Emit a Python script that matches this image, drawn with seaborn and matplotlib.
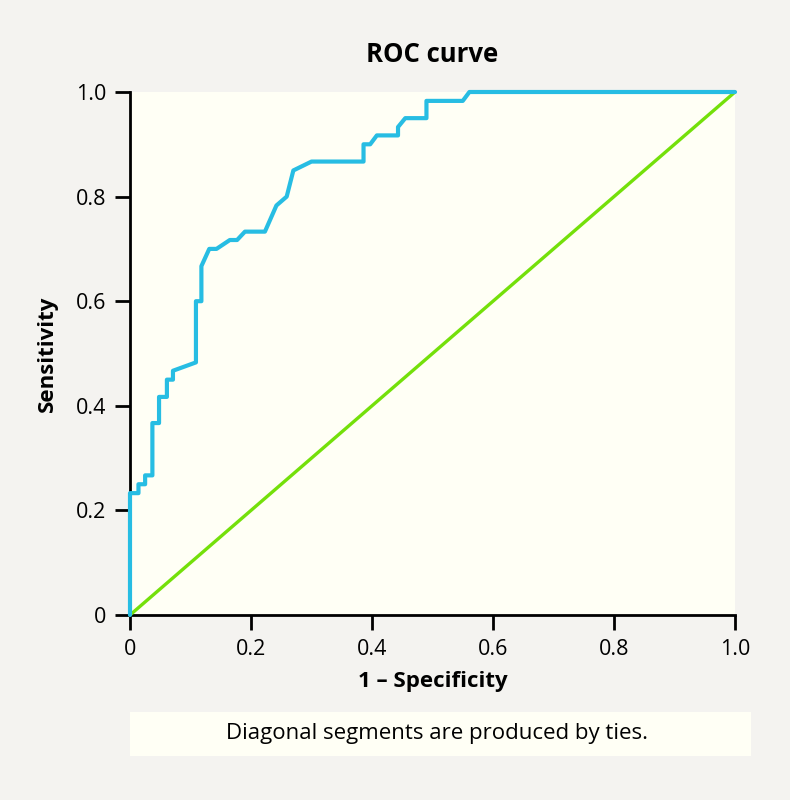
"""
plot.py
~~~~~~~
ROC curve with the chance diagonal and a caption box underneath.
"""
import matplotlib.pyplot as plt
import matplotlib.patches as mpatches
import seaborn as sns
from matplotlib import font_manager

# ROC points (1 - specificity, sensitivity)
fpr = [0.0, 0.0, 0.014, 0.014, 0.025, 0.025, 0.037, 0.037, 0.048, 0.048,
       0.061, 0.061, 0.071, 0.071, 0.109, 0.109, 0.118, 0.118, 0.131, 0.143,
       0.165, 0.177, 0.190, 0.223, 0.242, 0.259, 0.270, 0.300, 0.386, 0.386,
       0.397, 0.408, 0.443, 0.443, 0.455, 0.490, 0.490, 0.550, 0.561, 1.0]
tpr = [0.0, 0.233, 0.233, 0.250, 0.250, 0.267, 0.267, 0.367, 0.367, 0.417,
       0.417, 0.450, 0.450, 0.467, 0.483, 0.600, 0.600, 0.667, 0.700, 0.700,
       0.717, 0.717, 0.733, 0.733, 0.783, 0.800, 0.850, 0.867, 0.867, 0.900,
       0.900, 0.917, 0.917, 0.933, 0.950, 0.950, 0.983, 0.983, 1.000, 1.000]

# reference (chance) line
diag_x = [0.0, 1.0]
diag_y = [0.0, 1.0]

ticks = [0, 0.2, 0.4, 0.6, 0.8, 1.0]
tick_labels = ["0", "0.2", "0.4", "0.6", "0.8", "1.0"]

title = "ROC curve"
xlabel = "1 \u2013 Specificity"
ylabel = "Sensitivity"
caption = "Diagonal segments are produced by ties."

# colours
BG = "#f4f3f0"
PANEL = "#fffff5"
BLUE = "#27bde3"
GREEN = "#74e00a"

sns.set_style("ticks")
names = {f.name for f in font_manager.fontManager.ttflist}
family = "Liberation Sans Narrow" if "Liberation Sans Narrow" in names else "Open Sans"
plt.rcParams["font.family"] = [family, "DejaVu Sans"]
plt.rcParams["text.color"] = "black"
plt.rcParams["axes.labelcolor"] = "black"
plt.rcParams["xtick.color"] = "black"
plt.rcParams["ytick.color"] = "black"

fig = plt.figure(figsize=(7.9, 8.0), dpi=100, facecolor=BG)
ax = fig.add_axes([130 / 790, 1 - 615 / 800, 605 / 790, 523 / 800])
ax.set_facecolor(PANEL)

sns.lineplot(x=diag_x, y=diag_y, ax=ax, color=GREEN, linewidth=2.4,
             sort=False, estimator=None, clip_on=False, zorder=3)
sns.lineplot(x=fpr, y=tpr, ax=ax, color=BLUE, linewidth=3.0,
             sort=False, estimator=None, clip_on=False, zorder=4)

ax.set_xlim(0, 1)
ax.set_ylim(0, 1)
ax.set_xticks(ticks, tick_labels)
ax.set_yticks(ticks, tick_labels)
ax.tick_params(length=11, width=2, labelsize=15.5, pad=6)

for side in ["top", "right"]:
    ax.spines[side].set_visible(False)
for side in ["left", "bottom"]:
    ax.spines[side].set_linewidth(2)
    ax.spines[side].set_color("black")

ax.set_xlabel(xlabel, fontsize=16, fontweight="bold")
ax.set_ylabel(ylabel, fontsize=16, fontweight="bold")
ax.xaxis.set_label_coords(0.5, (615 - 682) / 523)
ax.yaxis.set_label_coords((47 - 130) / 605, 0.5)
ax.xaxis.label.set_va("center")
ax.yaxis.label.set_va("center")

fig.text(432.5 / 790, 1 - 55 / 800, title, fontsize=18.5, fontweight="bold",
         ha="center", va="center")

# caption box
box = mpatches.Rectangle((130 / 790, 1 - 756 / 800), 621 / 790, 44 / 800,
                         transform=fig.transFigure, facecolor=PANEL,
                         edgecolor="none")
fig.patches.append(box)
fig.text(437 / 790, 1 - 734 / 800, caption, fontsize=16, ha="center", va="center")

fig.savefig("out.png", dpi=100, facecolor=BG)
